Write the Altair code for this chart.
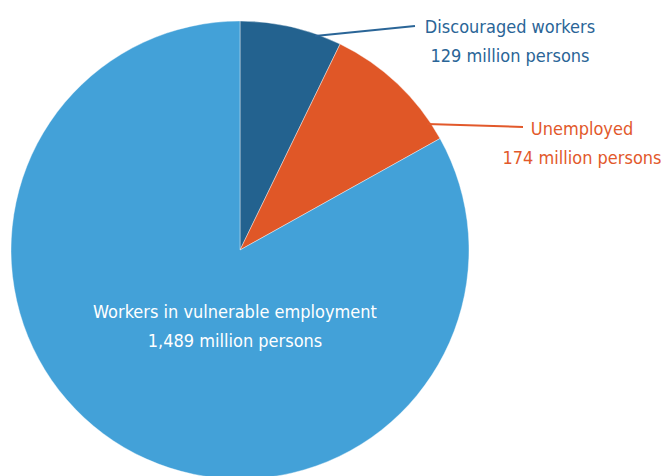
import altair as alt
import pandas as pd

categories = ["Discouraged workers", "Unemployed", "Workers in vulnerable employment"]
values = [129, 174, 1489]
colors = ["#23628F", "#E05727", "#43A1D8"]
text_colors = ["#2A6597", "#E2592B", "#FFFFFF"]

df = pd.DataFrame({
    "category": categories,
    "value": values,
    "order": list(range(len(categories))),
    "label": [f"{c}\n{v:,} million persons" for c, v in zip(categories, values)],
})

FONT = "DejaVu Sans Condensed, Liberation Sans Narrow, sans-serif"

pie = alt.Chart(df).mark_arc(outerRadius=229, stroke="#ffffff", strokeWidth=0.4).encode(
    x=alt.value(232),
    y=alt.value(242),
    theta=alt.Theta("value:Q", stack=True),
    order=alt.Order("order:Q"),
    color=alt.Color("category:N", scale=alt.Scale(domain=categories, range=colors), legend=None),
)

# annotation placements (page pixels minus 8px margin)
place = {
    "Discouraged workers": dict(x=502, y=25, line=(307, 28, 407, 18)),
    "Unemployed": dict(x=574, y=127, line=(419, 116, 515, 119)),
    "Workers in vulnerable employment": dict(x=227, y=310, line=None),
}

layers = [pie]
for cat, tc in zip(categories, text_colors):
    p = place[cat]
    sub = df[df["category"] == cat]
    layers.append(
        alt.Chart(sub).mark_text(
            font=FONT, fontSize=18, lineBreak="\n", lineHeight=29,
            align="center", baseline="alphabetic", color=tc,
        ).encode(x=alt.value(p["x"]), y=alt.value(p["y"]), text="label:N")
    )
    if p["line"]:
        x1, y1, x2, y2 = p["line"]
        layers.append(
            alt.Chart(sub).mark_rule(color=tc, strokeWidth=2).encode(
                x=alt.value(x1), y=alt.value(y1), x2=alt.value(x2), y2=alt.value(y2)
            )
        )

chart = alt.layer(*layers).properties(
    width=653, height=468, padding=0, autosize=alt.AutoSizeParams(type="none")
).configure_view(stroke=None)

chart.save("out.html", embed_options={"renderer": "svg", "actions": False})
